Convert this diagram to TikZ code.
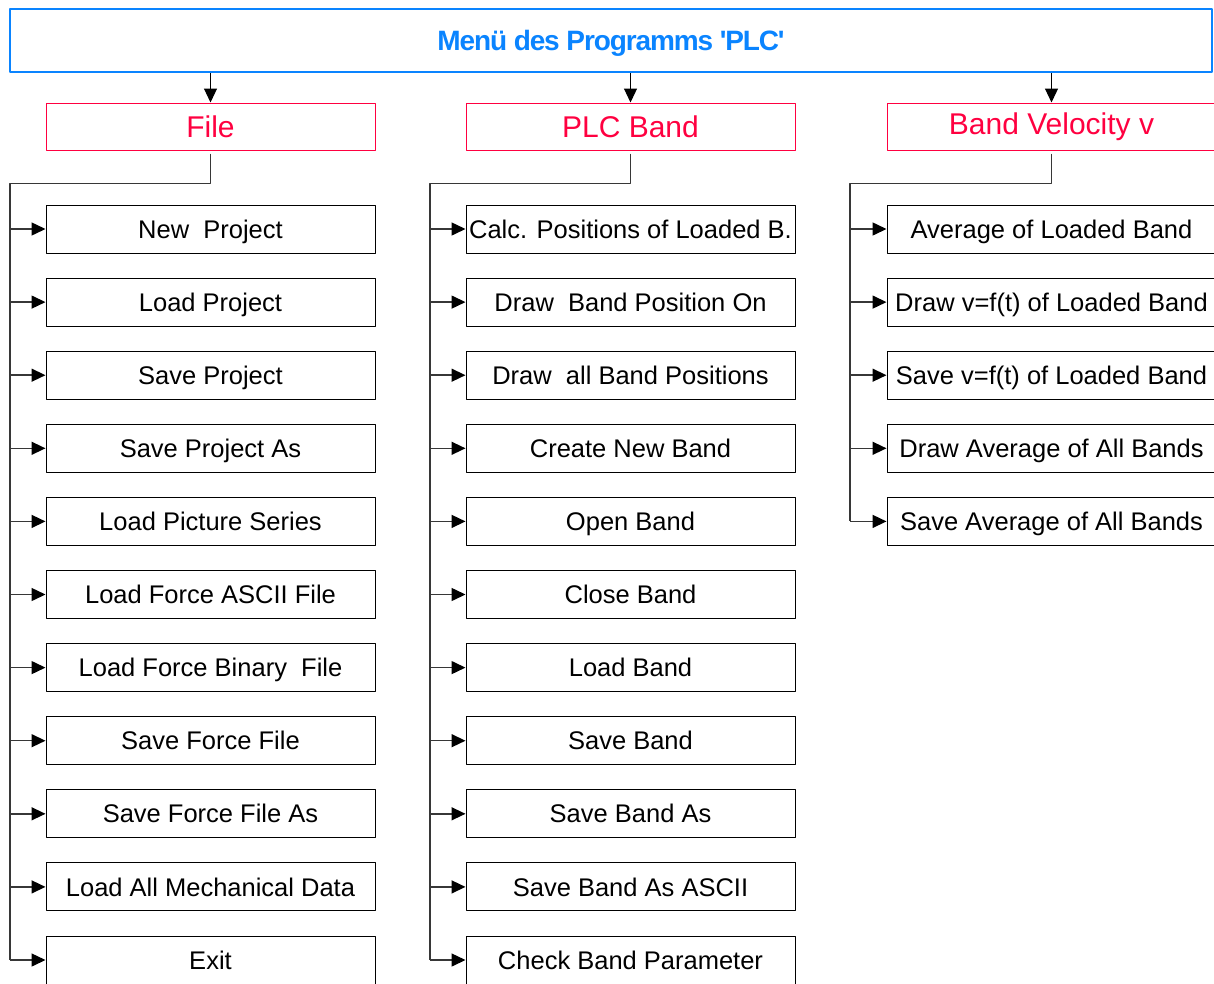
\documentclass[tikz,border=0pt]{standalone}
\usepackage{fontspec}
\setmainfont{Liberation Sans}
\newfontfamily\titlefont[LetterSpace=-4]{Liberation Sans}
\usetikzlibrary{arrows.meta,positioning}
\definecolor{menublue}{RGB}{10,132,255}
\definecolor{menured}{RGB}{255,0,64}
\definecolor{busgray}{RGB}{55,55,55}

\begin{document}
\begin{tikzpicture}[x=1pt, y=-1pt, >={Triangle[length=14pt,width=13pt,color=black]}, line join=round,
  menubox/.style={draw=menublue, line width=2pt, minimum width=1202pt, minimum height=63pt,
    inner sep=0pt, text height=20pt, text depth=-7pt, text=menublue,
    font=\titlefont\bfseries\fontsize{28}{32}\selectfont},
  headbox/.style={draw=menured, line width=1pt, minimum width=329pt, minimum height=47pt,
    inner sep=0pt, text height=21.5pt, text depth=0pt, text=menured,
    font=\fontsize{30}{34}\selectfont},
  itembox/.style={draw=black, line width=1pt, minimum width=329pt, minimum height=48pt,
    inner sep=0pt, text height=18.3pt, text depth=0pt, font=\fontsize{25.5}{30}\selectfont},
  bus/.style={busgray, line width=1.5pt}]
  \useasboundingbox (0,0) rectangle (1214,983);
  \clip (0,0) rectangle (1214,983);

  % menu title and the three sub menus
  \node[menubox] (menu) at (611,40.5) {Menü des Programms 'PLC'};
  \node[headbox] (hfile) at (210.5,126.5) {File};
  \node[headbox] (hband) at (630.5,126.5) {PLC Band};
  \node[headbox, text depth=6pt] (hvelo) at (1051.5,126.5) {Band Velocity v};
  \foreach \h in {hfile,hband,hvelo}
    \draw[->, line width=1.2pt] (menu.south -| \h.north) -- (\h.north);

  % File entries
  \foreach \txt [count=\i, evaluate=\i as \yy using 229+73.1*(\i-1)] in
    {New\ \ Project, Load Project, Save Project, Save Project As, Load Picture Series,
     Load Force ASCII File, Load Force Binary\ \ File, Save Force File, Save Force File As,
     Load All Mechanical Data, Exit}{
    \node[itembox] (file\i) at (210.5,\yy) {\txt};
    \coordinate (fbus\i) at (10,\yy);
  }
  \draw[bus] ([yshift=-3pt]hfile.south) -- ++(0,30) -| (fbus11);
  \foreach \i in {1,...,11}
    \draw[bus,->] (fbus\i) -- (file\i.west);

  % PLC Band entries
  \foreach \txt [count=\i, evaluate=\i as \yy using 229+73.1*(\i-1)] in
    {Calc. Positions of Loaded B., Draw\ \ Band Position On, Draw\ \ all Band Positions,
     Create New Band, Open Band, Close Band, Load Band, Save Band, Save Band As,
     Save Band As ASCII, Check Band Parameter}{
    \node[itembox] (band\i) at (630.5,\yy) {\txt};
    \coordinate (bbus\i) at (430,\yy);
  }
  \draw[bus] ([yshift=-3pt]hband.south) -- ++(0,30) -| (bbus11);
  \foreach \i in {1,...,11}
    \draw[bus,->] (bbus\i) -- (band\i.west);

  % Band Velocity entries
  \foreach \txt [count=\i, evaluate=\i as \yy using 229+73.1*(\i-1)] in
    {Average of Loaded Band, Draw v=f(t) of Loaded Band, Save v=f(t) of Loaded Band,
     Draw Average of All Bands, Save Average of All Bands}{
    \node[itembox] (velo\i) at (1051.5,\yy) {\txt};
    \coordinate (vbus\i) at (850,\yy);
  }
  \draw[bus] ([yshift=-3pt]hvelo.south) -- ++(0,30) -| (vbus5);
  \foreach \i in {1,...,5}
    \draw[bus,->] (vbus\i) -- (velo\i.west);
\end{tikzpicture}
\end{document}
